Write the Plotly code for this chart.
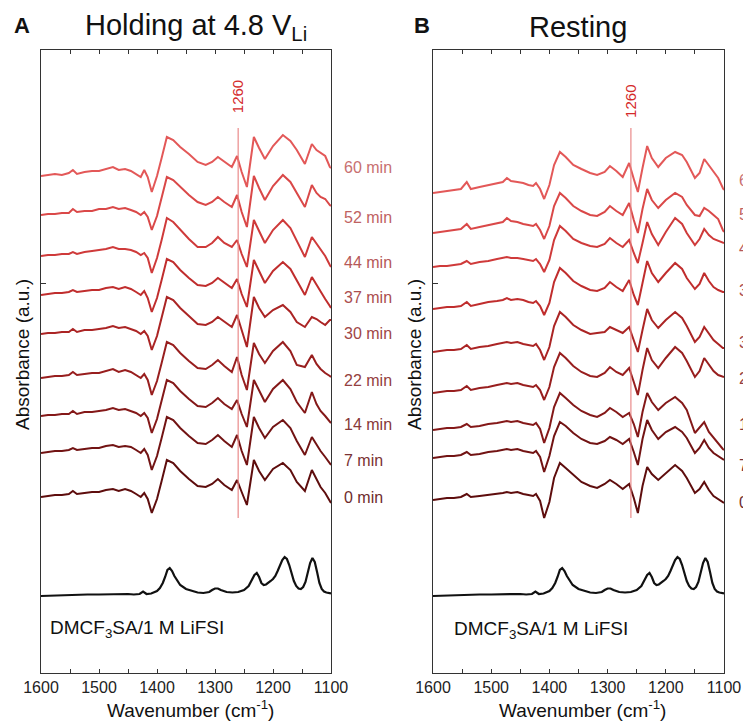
import plotly.graph_objects as go

W, H = 743, 721

# ---------------- data ----------------
times = ["0 min", "7 min", "14 min", "22 min", "30 min", "37 min", "44 min", "52 min", "60 min"]

wn_hold = [1600, 1588, 1576, 1564, 1552, 1545, 1538, 1525, 1512, 1500, 1488, 1476, 1466, 1455, 1445,
           1436, 1428, 1422, 1416, 1409, 1400, 1392, 1383, 1372, 1360, 1345, 1330, 1316, 1305, 1295,
           1284, 1271, 1262, 1254, 1245, 1233, 1224, 1214, 1200, 1183, 1170, 1159, 1145, 1133, 1125,
           1118, 1110, 1102, 1100]

hold_0 = [0, 1, 2, 2, 3, 6, 3, 4, 5, 5, 7, 8, 6, 8, 6, 3, 0, 4, -2, -16, -2, 16, 37, 34, 26, 18, 11, 10, 13, 18,
          12, 7, 17, 5, -8, 37, 26, 17, 28, 34, 27, 15, 6, 27, 18, 10, 4, -3, -6]
hold_7 = [0, 1, 2, 2, 3, 5, 3, 4, 5, 5, 7, 8, 6, 7, 6, 3, 0, 4, -2, -17, -3, 15, 36, 33, 25, 17, 10, 9, 13, 18,
          12, 6, 18, 2, -12, 36, 25, 15, 26, 33, 25, 12, -2, 16, 8, 2, -4, -10, -12]
hold_14 = [0, 1, 1, 2, 2, 5, 2, 4, 4, 5, 6, 8, 6, 7, 5, 3, 0, 3, -2, -17, -3, 15, 36, 33, 25, 17, 10, 9, 13, 18,
           12, 7, 16, 2, -11, 36, 25, 14, 27, 36, 27, 14, 3, 24, 12, 5, 0, -5, -7]
hold_22 = [0, 1, 2, 2, 3, 6, 3, 4, 5, 5, 7, 9, 6, 8, 6, 3, 0, 4, -2, -17, -3, 15, 36, 33, 25, 17, 10, 9, 13, 18,
           12, 6, 21, 3, -12, 35, 24, 15, 27, 36, 27, 13, 11, 23, 14, 9, 5, 2, 1]
hold_30 = [0, 1, 1, 2, 2, 5, 2, 4, 4, 5, 6, 8, 6, 7, 5, 3, 0, 3, -2, -16, -2, 16, 37, 34, 26, 18, 10, 9, 12, 17,
           12, 7, 19, 3, -13, 37, 26, 17, 24, 29, 22, 12, 7, 17, 15, 12, 9, 14, 14]
hold_37 = [0, 1, 2, 2, 3, 5, 3, 4, 5, 5, 7, 8, 6, 8, 6, 3, 0, 4, -3, -17, -3, 15, 36, 33, 25, 17, 10, 9, 12, 17,
           12, 7, 16, 1, -12, 35, 24, 12, 24, 33, 26, 14, 0, 18, 10, 4, -4, -11, -13]
hold_44 = [0, 1, 1, 2, 2, 4, 2, 4, 5, 6, 7, 9, 7, 7, 6, 4, 1, 3, -2, -17, -2, 16, 38, 34, 26, 17, 9, 9, 13, 19,
           13, 9, 16, 2, -11, 36, 25, 13, 26, 36, 28, 15, -1, 19, 12, 6, 0, -9, -11]
hold_52 = [0, 1, 1, 2, 2, 6, 3, 4, 4, 6, 6, 8, 6, 7, 5, 3, 0, 3, -2, -15, -1, 17, 38, 35, 28, 20, 13, 10, 13, 18,
           13, 8, 20, 3, -12, 39, 27, 15, 29, 40, 33, 22, 8, 30, 22, 18, 16, 10, 9]
hold_60 = [0, 1, 2, 1, 3, 6, 2, 4, 5, 5, 7, 9, 6, 7, 5, 2, -1, 6, -1, -16, 0, 18, 39, 36, 29, 22, 14, 11, 14, 19,
           14, 9, 20, 4, -11, 39, 28, 17, 30, 41, 35, 26, 12, 32, 26, 23, 20, 9, 8]

wn_rest = [1600, 1588, 1576, 1564, 1552, 1542, 1535, 1520, 1505, 1490, 1480, 1473, 1466, 1455, 1445,
           1436, 1428, 1423, 1416, 1409, 1400, 1392, 1382, 1372, 1359, 1345, 1330, 1318, 1305, 1296,
           1285, 1274, 1263, 1255, 1248, 1240, 1232, 1224, 1213, 1200, 1184, 1172, 1164, 1150, 1142,
           1134, 1126, 1118, 1110, 1102, 1100]

rest_0 = [0, 1, 2, 2, 3, 6, 3, 4, 5, 6, 7, 8, 7, 8, 6, 5, 4, 6, -1, -18, -2, 22, 37, 32, 25, 18, 14, 12, 16, 20,
          16, 11, 16, 2, -13, 14, 33, 26, 20, 27, 35, 29, 22, 7, 11, 18, 10, 4, 1, -2, -3]
rest_7 = [0, 1, 2, 2, 3, 6, 3, 4, 6, 7, 8, 9, 8, 9, 7, 6, 5, 7, 1, -14, 2, 22, 36, 32, 25, 19, 15, 14, 17, 21,
          18, 14, 19, 6, -7, 19, 38, 28, 19, 26, 31, 26, 20, 5, 10, 18, 10, 5, 2, -1, -2]
rest_14 = [0, 1, 2, 2, 3, 6, 3, 4, 6, 7, 8, 9, 8, 9, 7, 6, 5, 7, 1, -13, 2, 23, 37, 32, 25, 19, 15, 13, 17, 22,
           18, 13, 17, 6, -7, 18, 37, 28, 20, 27, 33, 27, 20, -3, 2, 8, -2, -8, -14, -19, -20]
rest_22 = [0, 1, 2, 2, 3, 7, 3, 5, 6, 8, 9, 10, 9, 10, 8, 7, 6, 8, 3, -7, 6, 26, 40, 35, 27, 21, 17, 16, 20, 26,
           21, 18, 25, 11, -2, 23, 45, 33, 25, 35, 46, 40, 32, 16, 22, 35, 28, 22, 18, 16, 16]
rest_30 = [0, 1, 2, 2, 3, 7, 3, 5, 6, 8, 9, 10, 9, 10, 8, 7, 6, 8, 2, -8, 5, 26, 40, 35, 27, 22, 18, 19, 20, 25,
           22, 19, 25, 12, 0, 22, 43, 32, 24, 32, 40, 34, 26, 10, 15, 25, 18, 12, 8, 4, 4]
rest_37 = [0, 1, 2, 2, 3, 7, 3, 5, 7, 8, 9, 11, 9, 10, 9, 7, 6, 8, 3, -6, 6, 27, 41, 36, 28, 23, 19, 18, 21, 27,
           22, 18, 29, 14, 4, 26, 48, 36, 27, 36, 46, 40, 31, 20, 25, 36, 28, 22, 19, 17, 17]
rest_44 = [0, 1, 1, 2, 3, 6, 3, 5, 6, 8, 9, 10, 9, 9, 8, 7, 6, 8, 3, -5, 7, 27, 41, 36, 28, 24, 21, 20, 23, 29,
           24, 20, 27, 14, 4, 24, 45, 33, 22, 35, 49, 43, 34, 22, 28, 38, 32, 28, 26, 24, 24]
rest_52 = [0, 1, 2, 3, 4, 9, 4, 6, 8, 10, 11, 15, 12, 11, 9, 8, 7, 9, 3, -6, 7, 27, 40, 35, 27, 22, 18, 17, 21, 27,
           22, 18, 30, 13, 0, 24, 44, 33, 25, 33, 40, 36, 28, 18, 17, 25, 22, 18, 14, 3, 1]
rest_60 = [0, 1, 2, 3, 4, 11, 4, 6, 8, 10, 11, 15, 12, 11, 10, 8, 7, 10, 4, -6, 8, 28, 41, 36, 28, 24, 20, 18, 21, 27,
           22, 16, 30, 14, 1, 25, 47, 35, 26, 35, 41, 38, 31, 15, 20, 34, 28, 21, 15, 5, 3]

# reference electrolyte spectrum (DMCF3SA / 1 M LiFSI)
wn_ref = [1600, 1560, 1520, 1500, 1480, 1460, 1450, 1440, 1430, 1424, 1418, 1410, 1400, 1395, 1390, 1386,
          1382, 1378, 1374, 1370, 1365, 1360, 1350, 1340, 1330, 1320, 1310, 1305, 1300, 1295, 1290, 1280,
          1270, 1260, 1250, 1242, 1236, 1232, 1228, 1224, 1220, 1216, 1212, 1208, 1204, 1200, 1196, 1192,
          1188, 1184, 1180, 1176, 1172, 1168, 1164, 1160, 1156, 1152, 1148, 1144, 1140, 1136, 1132, 1128,
          1124, 1120, 1116, 1112, 1108, 1104, 1100]
ref_abs = [-1, 0, 0.5, 0.5, 1, 1.5, 1, 0.5, 1, 3.5, 1, 1.5, 4, 7, 12, 18,
           25, 27, 24, 19, 14, 10, 6, 4, 2.5, 2, 3, 5, 6.5, 6.5, 5, 3,
           2.5, 3, 5, 9, 15, 20, 22, 18, 12, 10, 10.5, 12, 14, 16, 19, 24,
           30, 35, 38, 36, 30, 22, 14, 9, 6.5, 6, 8, 13, 22, 32, 37, 33,
           23, 12, 6, 3.5, 2.5, 2, 1.5]

marker_wn = 1260
major_ticks = [1600, 1500, 1400, 1300, 1200, 1100]
minor_ticks = [1550, 1450, 1350, 1250, 1150]

# ---------------- styling / layout ----------------
Y0 = 673  # bottom of plot area (px)
def py(ypix):
    return Y0 - ypix

hold_series = [hold_0, hold_7, hold_14, hold_22, hold_30, hold_37, hold_44, hold_52, hold_60]
rest_series = [rest_0, rest_7, rest_14, rest_22, rest_30, rest_37, rest_44, rest_52, rest_60]
hold_base_px = [497, 453, 416, 378, 334, 295, 256, 215, 176]
rest_base_px = [500, 458, 430, 393, 352, 309, 267, 233, 193]
hold_label_px = [497, 460, 425, 380, 333, 297, 262, 218, 167]
rest_label_px = [502, 465, 425, 378, 342, 290, 248, 215, 180]
ref_base_px = 595

line_colors = ['#5e0d0d', '#721313', '#841818', '#981e1e', '#ab2424', '#c02d2d', '#cf3a3a', '#da4848', '#e35858']
label_colors = ['#6e2c2c', '#7a3232', '#873838', '#944040', '#a04646', '#ab4e4e', '#b65858', '#bf6262', '#c87070']

FONT = "Liberation Sans, Arial, Helvetica, sans-serif"

fig = go.Figure()

panels = [
    ("x", "y", wn_hold, hold_series, hold_base_px),
    ("x2", "y2", wn_rest, rest_series, rest_base_px),
]
for xa, ya, wn, series, bases in panels:
    fig.add_trace(go.Scatter(x=wn_ref, y=[v + py(ref_base_px) for v in ref_abs], mode="lines",
                             line=dict(color="#111111", width=2.2), xaxis=xa, yaxis=ya,
                             showlegend=False, hoverinfo="skip"))
    for vals, b, col in zip(series, bases, line_colors):
        fig.add_trace(go.Scatter(x=wn, y=[v + py(b) for v in vals], mode="lines",
                                 line=dict(color=col, width=2), xaxis=xa, yaxis=ya,
                                 showlegend=False, hoverinfo="skip"))

xA = [41 / W, 331 / W]
xB = [433 / W, 724 / W]
ydom = [1 - Y0 / H, 1 - 50 / H]

def xaxis(dom, anchor):
    return dict(domain=dom, anchor=anchor, range=[1600, 1100], tickmode="array", tickvals=major_ticks,
                ticks="inside", ticklen=4, tickcolor="#333", showline=True, linecolor="#333", linewidth=1,
                minor=dict(tickmode="array", tickvals=minor_ticks, ticks="inside", ticklen=4, tickcolor="#333",
                           showgrid=False),
                mirror="ticks", showgrid=False, zeroline=False, automargin=False,
                tickfont=dict(family=FONT, size=16, color="#222"))

def yaxis(anchor):
    return dict(domain=ydom, anchor=anchor, range=[0, Y0 - 50], tickmode="array", tickvals=[py(283)],
                showticklabels=False, automargin=False,
                ticks="inside", ticklen=5, tickcolor="#333", showline=True, linecolor="#333", linewidth=1,
                mirror=True, showgrid=False, zeroline=False)

fig.update_layout(
    width=W, height=H, margin=dict(l=0, r=0, t=0, b=0, pad=0, autoexpand=False),
    paper_bgcolor="white", plot_bgcolor="white",
    xaxis=xaxis(xA, "y"), yaxis=yaxis("x"),
    xaxis2=xaxis(xB, "y2"), yaxis2=yaxis("x2"),
    showlegend=False,
)

shapes = []
annotations = []
for xa, ya in [("x", "y"), ("x2", "y2")]:
    shapes.append(dict(type="line", xref=xa, yref=ya, x0=marker_wn, x1=marker_wn, y0=py(518), y1=py(128),
                       line=dict(color="rgba(232,130,130,0.75)", width=1.5)))
annotations.append(dict(xref="x", yref="y", x=marker_wn, y=py(97), text=str(marker_wn), textangle=-90,
                        showarrow=False, font=dict(family=FONT, size=15, color="#d42a2a")))
annotations.append(dict(xref="x2", yref="y2", x=marker_wn, y=py(101), text=str(marker_wn), textangle=-90,
                        showarrow=False, font=dict(family=FONT, size=15, color="#d42a2a")))

for t, ypx, col in zip(times, hold_label_px, label_colors):
    annotations.append(dict(xref="paper", yref="paper", x=342 / W, y=1 - ypx / H, text=t, showarrow=False,
                            xanchor="left", yanchor="middle", font=dict(family=FONT, size=16, color=col)))
for t, ypx, col in zip(times, rest_label_px, label_colors):
    annotations.append(dict(xref="paper", yref="paper", x=737 / W, y=1 - ypx / H, text=t, showarrow=False,
                            xanchor="left", yanchor="middle", font=dict(family=FONT, size=16, color=col)))

def txt(xp, yp, text, size, anchor="center", bold=False, angle=0, color="#111"):
    annotations.append(dict(xref="paper", yref="paper", x=xp / W, y=1 - yp / H,
                            text=("<b>%s</b>" % text) if bold else text,
                            showarrow=False, xanchor=anchor, yanchor="middle", textangle=angle,
                            font=dict(family=FONT, size=size, color=color)))

txt(22, 26, "A", 22, bold=True)
txt(422, 26, "B", 22, bold=True)
txt(196, 27, "Holding at 4.8 V<sub>Li</sub>", 29)
txt(578, 27, "Resting", 29)
txt(22, 355, "Absorbance (a.u.)", 19, angle=-90)
txt(414, 355, "Absorbance (a.u.)", 19, angle=-90)
txt(190, 709, "Wavenumber (cm<sup>-1</sup>)", 19)
txt(582, 709, "Wavenumber (cm<sup>-1</sup>)", 19)
txt(48, 629, "DMCF<sub>3</sub>SA/1 M LiFSI", 19, anchor="left")
txt(452, 630, "DMCF<sub>3</sub>SA/1 M LiFSI", 19, anchor="left")

fig.update_layout(shapes=shapes, annotations=annotations)
fig.write_html("out.html")
